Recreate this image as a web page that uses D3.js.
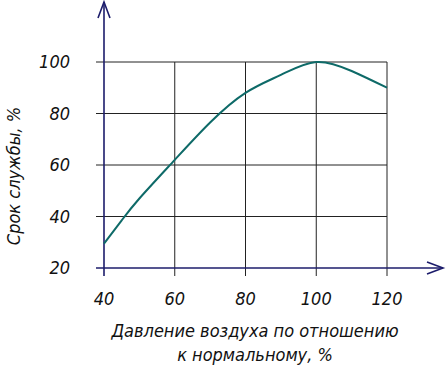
<!DOCTYPE html>
<html>
<head>
<meta charset="utf-8">
<script src="https://cdn.jsdelivr.net/npm/d3@7"></script>
<style>
  body { margin: 0; background: #fff; }
  text { font-family: "Liberation Sans Narrow", "DejaVu Sans Condensed", sans-serif; font-style: italic; fill: #111; }
</style>
</head>
<body>
<div id="chart"></div>
<script>
// pressure relative to normal, %
const pressure = [40, 45, 50, 60, 70, 80, 90, 100, 110, 120];
// service life, %
const life = [29.5, 38.5, 47, 62, 76.5, 88, 95, 100, 96.5, 90];
const xTicks = [40, 60, 80, 100, 120];
const yTicks = [20, 40, 60, 80, 100];
const xTitle = ["Давление воздуха по отношению", "к нормальному, %"];
const yTitle = "Срок службы, %";

const W = 447, H = 368;
const axisColor = "#1c1c6b", gridColor = "#222", lineColor = "#0e6a68";

const svg = d3.select("#chart").append("svg")
  .attr("width", W).attr("height", H);

const x = d3.scaleLinear().domain([40, 120]).range([104, 387]);
const y = d3.scaleLinear().domain([20, 100]).range([268, 62]);

// grid
svg.append("g").selectAll("line").data(yTicks.slice(1)).join("line")
  .attr("x1", x(40) - 8).attr("x2", x(120))
  .attr("y1", d => y(d)).attr("y2", d => y(d))
  .attr("stroke", gridColor).attr("stroke-width", 1);
svg.append("g").selectAll("line").data(xTicks.slice(1)).join("line")
  .attr("x1", d => x(d)).attr("x2", d => x(d))
  .attr("y1", y(100)).attr("y2", y(20) + 8)
  .attr("stroke", gridColor).attr("stroke-width", 1);

// axes with open arrows
svg.append("line")
  .attr("x1", x(40) - 8).attr("x2", 443)
  .attr("y1", y(20)).attr("y2", y(20))
  .attr("stroke", axisColor).attr("stroke-width", 1.6);
svg.append("path")
  .attr("d", `M427,${y(20) - 6}L443,${y(20)}L427,${y(20) + 6}`)
  .attr("fill", "none").attr("stroke", axisColor).attr("stroke-width", 1.6);
svg.append("line")
  .attr("x1", x(40)).attr("x2", x(40))
  .attr("y1", 2).attr("y2", y(20) + 8)
  .attr("stroke", axisColor).attr("stroke-width", 1.6);
svg.append("path")
  .attr("d", `M${x(40) - 6},18L${x(40)},2L${x(40) + 6},18`)
  .attr("fill", "none").attr("stroke", axisColor).attr("stroke-width", 1.6);

// tick labels
svg.append("g").selectAll("text").data(xTicks).join("text")
  .attr("x", d => x(d)).attr("y", 305)
  .attr("text-anchor", "middle").attr("font-size", 18)
  .text(d => d);
svg.append("g").selectAll("text").data(yTicks).join("text")
  .attr("x", 70).attr("y", d => y(d) + 6)
  .attr("text-anchor", "end").attr("font-size", 18)
  .text(d => d);

// curve
svg.append("path")
  .datum(pressure.map((p, i) => [p, life[i]]))
  .attr("d", d3.line().x(d => x(d[0])).y(d => y(d[1])).curve(d3.curveNatural))
  .attr("fill", "none").attr("stroke", lineColor).attr("stroke-width", 2);

// titles
svg.append("text")
  .attr("transform", "translate(20,176) rotate(-90)")
  .attr("text-anchor", "middle").attr("font-size", 18)
  .text(yTitle);
svg.append("g").selectAll("text").data(xTitle).join("text")
  .attr("x", 255).attr("y", (d, i) => 337 + i * 24)
  .attr("text-anchor", "middle").attr("font-size", 18)
  .text(d => d);
</script>
</body>
</html>
